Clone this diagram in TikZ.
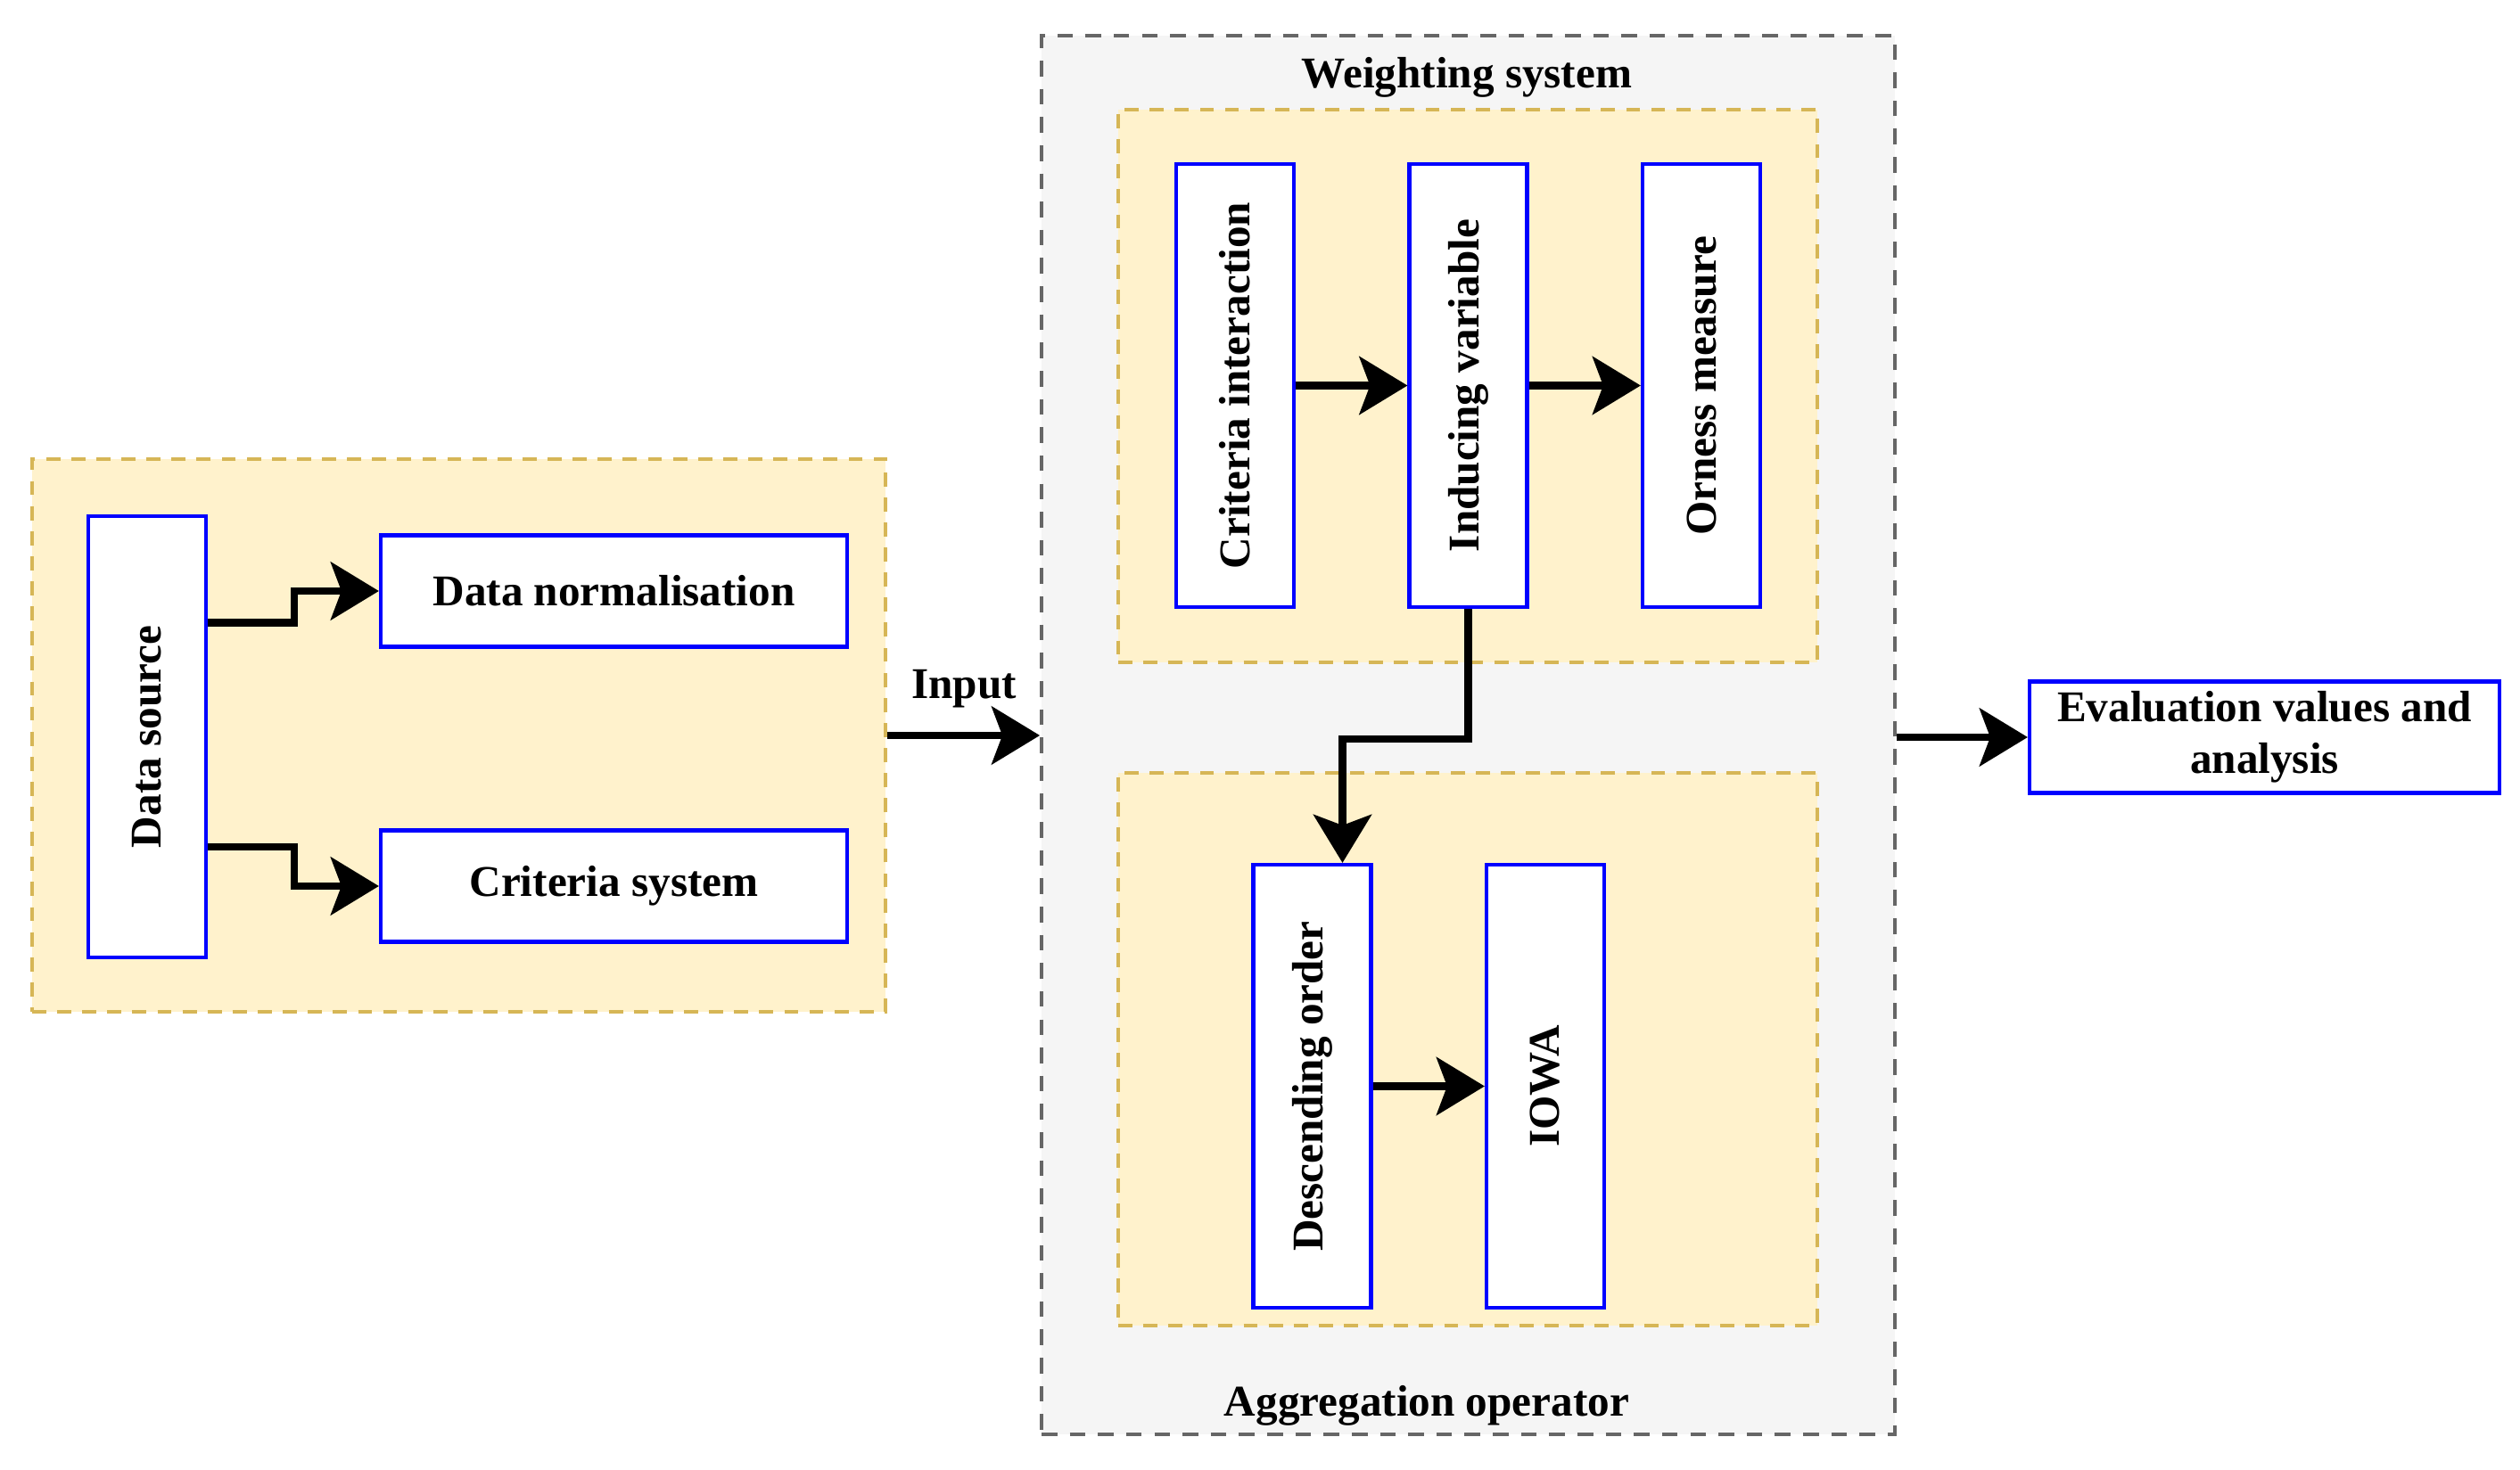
\documentclass[tikz,border=0pt]{standalone}
\usepackage{fontspec}
\setmainfont{Liberation Serif}
\usetikzlibrary{arrows.meta}
\definecolor{groupfill}{HTML}{FFF2CC}
\definecolor{groupline}{HTML}{D6B656}
\definecolor{outerfill}{HTML}{F5F5F5}
\definecolor{outerline}{HTML}{666666}
\definecolor{boxline}{HTML}{0000FF}

\begin{document}
\begin{tikzpicture}[
		font=\fontsize{14}{16.5}\selectfont\bfseries,
		group/.style={draw=groupline, fill=groupfill, line width=0.9pt, dash pattern=on 4.5pt off 3.5pt, minimum width=7.84cm, minimum height=6.2cm},
		outer/.style={draw=outerline, fill=outerfill, line width=1.1pt, dash pattern=on 5pt off 4pt},
		vbox/.style={draw=boxline, fill=white, line width=1.2pt, minimum width=1.32cm, minimum height=4.97cm, inner sep=0pt},
		hbox/.style={draw=boxline, fill=white, line width=1.2pt, minimum width=5.23cm, minimum height=1.25cm, inner sep=0pt, align=center},
		arr/.style={draw=black, line width=2.3pt, -{Stealth[length=5.4mm, width=6.5mm, inset=1.2mm]}}
	]
		\path[use as bounding box, fill=white] (0,0) rectangle (28.26,16.48);

		\node[group, minimum width=9.57cm] (datagrp) at (5.145,8.23) {};
		\node[outer, minimum width=9.57cm, minimum height=15.69cm] (weightsys) at (16.465,8.235) {};
		\node[group] (weightgrp) at (16.46,12.15) {};
		\node[group] (aggrgrp) at (16.46,4.71) {};

		\node[vbox, minimum height=4.95cm] (datasrc) at (1.65,8.215) {\rotatebox{90}{Data source}};
		\node[hbox] (datanorm) at (6.885,9.85) {Data normalisation};
		\node[hbox] (critsys) at (6.885,6.54) {Criteria system};
		\node (inputlbl) at (10.81,8.75) {Input};

		\node (weightlbl) at (16.45,15.61) {Weighting system};
		\node[vbox] (critint) at (13.85,12.155) {\rotatebox{90}{Criteria interaction}};
		\node[vbox] (inducing) at (16.465,12.155) {\rotatebox{90}{Inducing variable}};
		\node[vbox] (orness) at (19.08,12.155) {\rotatebox{90}{Orness measure}};

		\node[vbox] (descorder) at (14.715,4.295) {\rotatebox{90}{Descending order}};
		\node[vbox] (iowa) at (17.33,4.295) {\rotatebox{90}{IOWA}};
		\node (aggrlbl) at (16.0,0.71) {Aggregation operator};

		\node[hbox, minimum width=5.27cm] (evalbox) at (25.395,8.21) {Evaluation values and\\analysis};

		\draw[arr] ([yshift=1.28cm]datasrc.east) -- ++(0.97,0) |- (datanorm.west);
		\draw[arr] ([yshift=-1.235cm]datasrc.east) -- ++(0.97,0) |- (critsys.west);
		\draw[arr] (datagrp.east) -- (datagrp.east -| weightsys.west);

		\draw[arr] (critint) -- (inducing);
		\draw[arr] (inducing) -- (orness);
		\draw[arr] (inducing.south) -- ++(0,-1.46) -| ([xshift=3.4mm]descorder.north);
		\draw[arr] (descorder) -- (iowa);

		\draw[arr] (weightsys.east |- evalbox.west) -- (evalbox.west);
	\end{tikzpicture}
\end{document}
